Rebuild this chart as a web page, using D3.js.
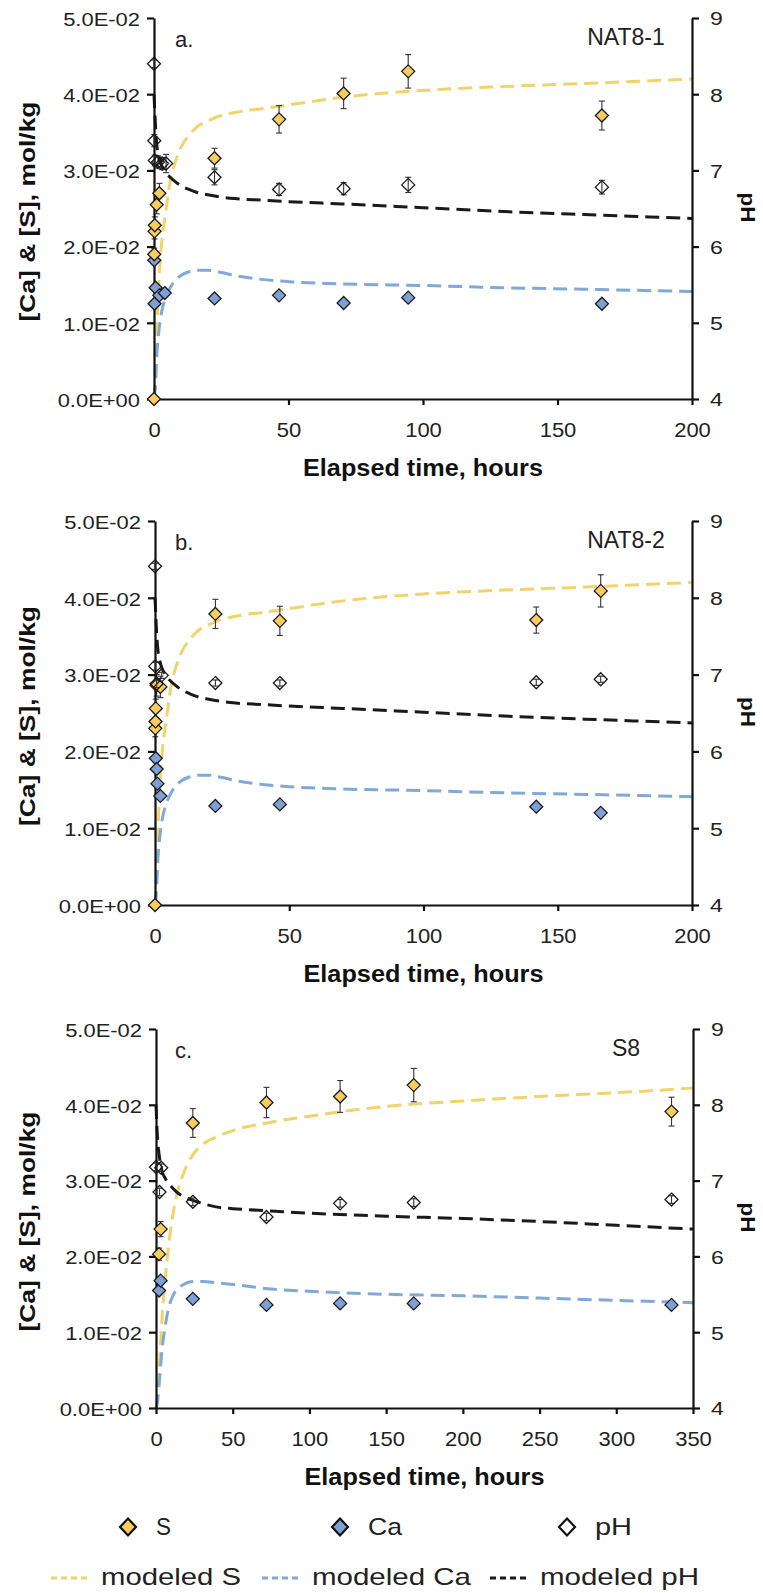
<!DOCTYPE html>
<html lang="en">
<head>
<meta charset="utf-8">
<title>[Ca], [S] and pH vs elapsed time</title>
<script src="https://d3js.org/d3.v7.min.js"></script>
<style>
  body { margin: 0; background: #fff; }
  svg { display: block; font-family: "Liberation Sans", Arial, sans-serif; }
  .axis path, .axis line { stroke: #111; stroke-width: 2.2px; }
  .axis text { fill: #222; }
  .model { fill: none; stroke-width: 3px; stroke-dasharray: 14 7; }
  .err { stroke: #333; stroke-width: 1.1px; }
</style>
</head>
<body>
<svg id="chart" width="763" height="1593"></svg>
<script>
// tick values and labels
var concTicks = [0, 0.01, 0.02, 0.03, 0.04, 0.05];
var concTickLabels = ["0.0E+00", "1.0E-02", "2.0E-02", "3.0E-02", "4.0E-02", "5.0E-02"];
var phTicks = [4, 5, 6, 7, 8, 9];
var hourTicks200 = [0, 50, 100, 150, 200];
var hourTicks350 = [0, 50, 100, 150, 200, 250, 300, 350];

// panel a, NAT8-1 (measured)
var aS_t    = [0, 0.1, 0.2, 0.3, 1, 2, 22.5, 46.5, 70.5, 94.5, 166.5];
var aS      = [0, 0.0190, 0.0220, 0.0228, 0.0255, 0.0270, 0.0316, 0.0367, 0.0401, 0.0430, 0.0372];
var aS_err  = [0, 0.0008, 0.0010, 0.0011, 0.0012, 0.0013, 0.0013, 0.0018, 0.0020, 0.0022, 0.0019];
var aCa_t   = [0.1, 0.2, 0.6, 2, 4, 22.5, 46.5, 70.5, 94.5, 166.5];
var aCa     = [0.0182, 0.0125, 0.0146, 0.0136, 0.0139, 0.0132, 0.0136, 0.0126, 0.0133, 0.0125];
var aPH_t   = [0, 0.1, 0.3, 1.5, 3, 4.5, 22.5, 46.5, 70.5, 94.5, 166.5];
var aPH     = [8.40, 7.39, 7.13, 7.11, 7.09, 7.09, 6.91, 6.75, 6.76, 6.81, 6.78];
var aPH_err = [0.05, 0.08, 0.07, 0.08, 0.08, 0.12, 0.10, 0.08, 0.08, 0.10, 0.09];

// panel b, NAT8-2 (measured)
var bS_t    = [0, 0.1, 0.2, 0.3, 0.6, 2, 22.5, 46.5, 142, 166];
var bS      = [0, 0.0230, 0.0239, 0.0256, 0.0286, 0.0284, 0.0379, 0.0370, 0.0371, 0.0409];
var bS_err  = [0, 0.0011, 0.0011, 0.0012, 0.0014, 0.0014, 0.0019, 0.0019, 0.0017, 0.0021];
var bCa_t   = [0.3, 0.6, 0.9, 2, 22.5, 46.5, 142, 166];
var bCa     = [0.0191, 0.0177, 0.0158, 0.0142, 0.0129, 0.0131, 0.0128, 0.0120];
var bPH_t   = [0, 0.1, 0.6, 2.5, 22.5, 46.5, 142, 166];
var bPH     = [8.41, 7.11, 6.88, 6.99, 6.89, 6.89, 6.90, 6.94];
var bPH_err = [0.04, 0.05, 0.05, 0.04, 0.04, 0.04, 0.04, 0.04];

// panel c, S8 (measured)
var cS_t    = [2, 3, 24, 72, 120, 168, 336];
var cS      = [0.0203, 0.0236, 0.0376, 0.0403, 0.0411, 0.0426, 0.0391];
var cS_err  = [0.0008, 0.0010, 0.0019, 0.0020, 0.0021, 0.0022, 0.0019];
var cCa_t   = [2, 3, 24, 72, 120, 168, 336];
var cCa     = [0.0155, 0.0168, 0.0144, 0.0136, 0.0138, 0.0138, 0.0136];
var cPH_t   = [0, 2.3, 3.4, 24, 72, 120, 168, 336];
var cPH     = [7.18, 6.85, 7.17, 6.72, 6.52, 6.70, 6.71, 6.75];
var cPH_err = [0.05, 0.05, 0.05, 0.05, 0.05, 0.05, 0.05, 0.05];

// modeled curves, 200 h runs (a, b)
var mod200_t  = [0, 0.5, 1, 2, 3, 4, 6, 8, 10, 13, 16, 20, 25, 30, 40, 50, 70, 100, 130, 160, 200];
var mod200_S  = [0, 0.0030, 0.0086, 0.0165, 0.0210, 0.0236, 0.0285, 0.0312, 0.0330, 0.0346, 0.0357, 0.0365, 0.0372, 0.0376, 0.0381, 0.0386, 0.0396, 0.0405, 0.0410, 0.0414, 0.0420];
var mod200_Ca = [0, 0.0015, 0.0054, 0.0095, 0.0117, 0.0130, 0.0146, 0.0156, 0.0162, 0.0167, 0.0169, 0.0169, 0.0166, 0.0162, 0.0157, 0.0154, 0.0151, 0.0149, 0.0146, 0.0144, 0.0141];
var mod200_pH = [8.0, 7.62, 7.35, 7.15, 7.05, 6.99, 6.91, 6.85, 6.80, 6.75, 6.71, 6.68, 6.65, 6.63, 6.61, 6.59, 6.56, 6.51, 6.46, 6.42, 6.37];

// modeled curves, 350 h run (c)
var mod350_t  = [0, 1, 2, 4, 6, 8, 11, 14, 18, 24, 30, 40, 50, 75, 100, 150, 200, 250, 300, 350];
var mod350_S  = [0, 0.0015, 0.0050, 0.0120, 0.0170, 0.0210, 0.0255, 0.0285, 0.0310, 0.0334, 0.0347, 0.0358, 0.0366, 0.0377, 0.0385, 0.0398, 0.0405, 0.0411, 0.0416, 0.0422];
var mod350_Ca = [0, 0.0008, 0.0030, 0.0078, 0.0108, 0.0130, 0.0148, 0.0157, 0.0163, 0.0167, 0.0167, 0.0165, 0.0163, 0.0157, 0.0154, 0.0150, 0.0148, 0.0145, 0.0142, 0.0139];
var mod350_pH = [8.0, 7.55, 7.35, 7.12, 7.03, 6.97, 6.90, 6.84, 6.79, 6.74, 6.70, 6.65, 6.63, 6.60, 6.57, 6.53, 6.50, 6.46, 6.41, 6.36];

var colS = "#f8cd5f", colCa = "#7fa0d6";
var lineS = "#f2d36b", lineCa = "#80a9d8", linePH = "#1a1a1a";

function zip(t, v, e) {
  return t.map(function (d, i) { return { t: d, v: v[i], e: e ? e[i] : 0 }; });
}

var panels = [
  { top: 18, bottom: 399, left: 154, right: 692, xMax: 200, xTicks: hourTicks200, letter: "a.", name: "NAT8-1",
    S: zip(aS_t, aS, aS_err), Ca: zip(aCa_t, aCa), PH: zip(aPH_t, aPH, aPH_err),
    mt: mod200_t, mS: mod200_S, mCa: mod200_Ca, mPH: mod200_pH },
  { top: 521, bottom: 905, left: 155, right: 692, xMax: 200, xTicks: hourTicks200, letter: "b.", name: "NAT8-2",
    S: zip(bS_t, bS, bS_err), Ca: zip(bCa_t, bCa), PH: zip(bPH_t, bPH, bPH_err),
    mt: mod200_t, mS: mod200_S, mCa: mod200_Ca, mPH: mod200_pH },
  { top: 1029, bottom: 1408, left: 156, right: 693, xMax: 350, xTicks: hourTicks350, letter: "c.", name: "S8",
    S: zip(cS_t, cS, cS_err), Ca: zip(cCa_t, cCa), PH: zip(cPH_t, cPH, cPH_err),
    mt: mod350_t, mS: mod350_S, mCa: mod350_Ca, mPH: mod350_pH }
];

var svg = d3.select("#chart");
svg.append("rect").attr("width", 763).attr("height", 1593).attr("fill", "#fff");

function diamond(rx, ry) {
  return "M0," + (-ry) + "L" + rx + ",0L0," + ry + "L" + (-rx) + ",0Z";
}

panels.forEach(function (p) {
  var g = svg.append("g");
  var x = d3.scaleLinear().domain([0, p.xMax]).range([p.left, p.right]);
  var y = d3.scaleLinear().domain([0, 0.05]).range([p.bottom, p.top]);
  var yPH = d3.scaleLinear().domain([4, 9]).range([p.bottom, p.top]);

  // modeled lines
  function modelLine(vals, scale, color) {
    var pts = p.mt.map(function (t, i) { return [t, vals[i]]; });
    g.append("path")
      .attr("class", "model")
      .attr("stroke", color)
      .attr("d", d3.line()
        .curve(d3.curveMonotoneX)
        .x(function (d) { return x(d[0]); })
        .y(function (d) { return scale(d[1]); })(pts));
  }
  modelLine(p.mS, y, lineS);
  modelLine(p.mCa, y, lineCa);
  modelLine(p.mPH, yPH, linePH);

  // error bars
  function errBars(data, scale) {
    var eb = g.append("g").selectAll("g")
      .data(data.filter(function (d) { return d.e > 0; }))
      .enter().append("g");
    eb.append("line").attr("class", "err")
      .attr("x1", function (d) { return x(d.t); }).attr("x2", function (d) { return x(d.t); })
      .attr("y1", function (d) { return scale(d.v - d.e); }).attr("y2", function (d) { return scale(d.v + d.e); });
    [-1, 1].forEach(function (s) {
      eb.append("line").attr("class", "err")
        .attr("x1", function (d) { return x(d.t) - 3; }).attr("x2", function (d) { return x(d.t) + 3; })
        .attr("y1", function (d) { return scale(d.v + s * d.e); }).attr("y2", function (d) { return scale(d.v + s * d.e); });
    });
  }
  errBars(p.S, y);

  // axes
  var ax = g.append("g").attr("class", "axis")
    .attr("transform", "translate(" + p.left + ",0)")
    .call(d3.axisLeft(y).tickValues(concTicks)
      .tickFormat(function (d, i) { return concTickLabels[i]; })
      .tickSize(7).tickSizeOuter(0).tickPadding(7));
  ax.selectAll("text")
    .attr("font-size", 18)
    .attr("x", -14 / 1.22)
    .attr("dy", "0.4em")
    .attr("transform", "scale(1.22,1)");

  var ar = g.append("g").attr("class", "axis")
    .attr("transform", "translate(" + p.right + ",0)")
    .call(d3.axisRight(yPH).tickValues(phTicks).tickFormat(d3.format("d"))
      .tickSize(7).tickSizeOuter(0));
  ar.selectAll("text")
    .attr("font-size", 18)
    .attr("x", 18 / 1.28)
    .attr("dy", "0.38em")
    .attr("transform", "scale(1.28,1)");

  var ab = g.append("g").attr("class", "axis")
    .attr("transform", "translate(0," + p.bottom + ")")
    .call(d3.axisBottom(x).tickValues(p.xTicks).tickSize(6).tickSizeOuter(0));
  ab.selectAll("text")
    .attr("font-size", 20)
    .attr("y", 38)
    .attr("dy", 0)
    .attr("transform", "scale(1.1,1)");

  // markers
  g.append("g").selectAll("path").data(p.Ca).enter().append("path")
    .attr("d", diamond(6.5, 6.5))
    .attr("transform", function (d) { return "translate(" + x(d.t) + "," + y(d.v) + ")"; })
    .attr("fill", colCa).attr("stroke", "#1a1a1a").attr("stroke-width", 1.3);
  g.append("g").selectAll("path").data(p.S).enter().append("path")
    .attr("d", diamond(6.5, 6.5))
    .attr("transform", function (d) { return "translate(" + x(d.t) + "," + y(d.v) + ")"; })
    .attr("fill", colS).attr("stroke", "#1a1a1a").attr("stroke-width", 1.3);
  errBars(p.PH, yPH);
  g.append("g").selectAll("path").data(p.PH).enter().append("path")
    .attr("d", diamond(6.5, 6.5))
    .attr("transform", function (d) { return "translate(" + x(d.t) + "," + yPH(d.v) + ")"; })
    .attr("fill", "none").attr("stroke", "#1a1a1a").attr("stroke-width", 1.3);

  // labels
  g.append("text").attr("x", 175).attr("y", p.top + 29)
    .attr("font-size", 22).attr("fill", "#222").text(p.letter);
  g.append("text").attr("x", 626).attr("y", p.top + 27)
    .attr("font-size", 23).attr("fill", "#222").attr("text-anchor", "middle").text(p.name);

  var mid = (p.top + p.bottom) / 2;
  g.append("text")
    .attr("transform", "translate(35," + (mid + 3) + ") rotate(-90)")
    .attr("text-anchor", "middle").attr("font-size", 22).attr("font-weight", "bold")
    .attr("fill", "#111").attr("textLength", 220).attr("lengthAdjust", "spacingAndGlyphs")
    .text("[Ca] & [S],  mol/kg");
  g.append("text")
    .attr("transform", "translate(741," + (mid - 1) + ") rotate(90)")
    .attr("text-anchor", "middle").attr("font-size", 21).attr("font-weight", "bold")
    .attr("fill", "#111").attr("textLength", 30).attr("lengthAdjust", "spacingAndGlyphs")
    .text("pH");
  g.append("text")
    .attr("x", (p.left + p.right) / 2).attr("y", p.bottom + 77)
    .attr("text-anchor", "middle").attr("font-size", 23).attr("font-weight", "bold")
    .attr("fill", "#111").attr("textLength", 240).attr("lengthAdjust", "spacingAndGlyphs")
    .text("Elapsed time, hours");
});

// legend
var legendMarks = [
  { label: "S", fill: colS, x: 128, w: 15 },
  { label: "Ca", fill: colCa, x: 340, w: 34 },
  { label: "pH", fill: "#fff", x: 567, w: 37 }
];
var legendLines = [
  { label: "modeled S", color: lineS, x: 51, w: 140 },
  { label: "modeled Ca", color: lineCa, x: 262, w: 159 },
  { label: "modeled pH", color: linePH, x: 490, w: 159 }
];
var lg = svg.append("g");
legendMarks.forEach(function (d) {
  lg.append("path").attr("d", diamond(8, 8.5))
    .attr("transform", "translate(" + d.x + ",1527)")
    .attr("fill", d.fill).attr("stroke", "#111").attr("stroke-width", 2.2);
  lg.append("text").attr("x", d.x + 28).attr("y", 1535)
    .attr("font-size", 24).attr("fill", "#222")
    .attr("textLength", d.w).attr("lengthAdjust", "spacingAndGlyphs").text(d.label);
});
legendLines.forEach(function (d) {
  lg.append("line").attr("x1", d.x).attr("x2", d.x + 37).attr("y1", 1578).attr("y2", 1578)
    .attr("stroke", d.color).attr("stroke-width", 3).attr("stroke-dasharray", "6 4");
  lg.append("text").attr("x", d.x + 50).attr("y", 1585)
    .attr("font-size", 24).attr("fill", "#222")
    .attr("textLength", d.w).attr("lengthAdjust", "spacingAndGlyphs").text(d.label);
});
</script>
</body>
</html>
